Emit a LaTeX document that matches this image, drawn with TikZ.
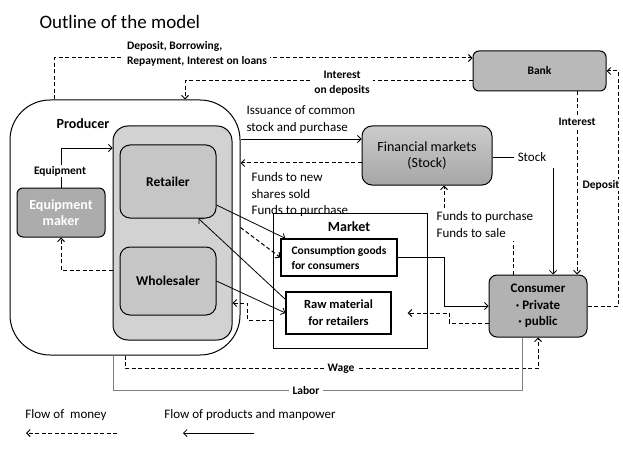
\documentclass[tikz,border=0pt]{standalone}
\usepackage{fontspec}
\setmainfont{Carlito}
\usetikzlibrary{calc,arrows.meta}
\tikzstyle{box} = [rectangle,draw,line width=1pt,text centered,align=center]

\begin{document}
\begin{tikzpicture}
		[
		x=1pt,y=-1pt,
		>={Straight Barb[length=3.5pt,width=7pt]},
		rbox/.style={
		box,
		rounded corners=#1},
		tag/.style={font=\bfseries\fontsize{11.5}{15}\selectfont,align=center},
		txt/.style={font=\fontsize{13}{16.5}\selectfont,align=left},
		money/.style={draw,line width=1pt,dash pattern=on 4pt off 2.5pt},
		goods/.style={draw,line width=0.8pt},
		labor/.style={draw=gray,line width=0.6pt}
		]
		\useasboundingbox (0,0) rectangle (623,449);
		\node[font=\fontsize{19}{22}\selectfont,anchor=west](title) at (36,22) {Outline of the model};
		\node[rbox=40pt,minimum width=230,minimum height=255](producer) at (125,227.5) {};
		\node[font=\bfseries\fontsize{14}{16}\selectfont](prodname) at (83,124) {Producer};
		\node[rbox=15pt,fill=gray!35,minimum width=119,minimum height=214](group) at (172.5,233) {};
		\node[rbox=10pt,fill=gray!45,minimum width=96,minimum height=73,font=\bfseries\fontsize{13.5}{16}\selectfont](retailer) at (168,181.5) {Retailer};
		\node[rbox=10pt,fill=gray!45,minimum width=96,minimum height=68,font=\bfseries\fontsize{13.5}{16}\selectfont](wholesaler) at (168,281) {Wholesaler};
		\node[rbox=6pt,fill=gray!65,text=white,minimum width=88,minimum height=49,font=\bfseries\fontsize{14}{16}\selectfont](equip) at (61,212.5) {Equipment\\maker};
		\node[box,line width=0.6pt,minimum width=154,minimum height=135](market) at (350,280.5) {};
		\node[font=\bfseries\fontsize{14}{16}\selectfont](marketname) at (349,227) {Market};
		\node[box,line width=1.2pt,minimum width=116,minimum height=37,align=left,font=\bfseries\fontsize{11.5}{15}\selectfont](cons) at (339,257.5) {Consumption goods\\for consumers};
		\node[box,line width=1.2pt,minimum width=105,minimum height=42,font=\bfseries\fontsize{12.5}{17}\selectfont](raw) at (338.5,313) {Raw material\\for retailers};
		\node[rbox=6pt,fill=gray!55,minimum width=133,minimum height=40,font=\bfseries\fontsize{11.5}{13}\selectfont](bank) at (539.5,71) {Bank};
		\node[rbox=10pt,top color=gray!40,bottom color=gray!70,minimum width=130,minimum height=59,font=\fontsize{14}{16}\selectfont](fin) at (427,155.5) {Financial markets\\(Stock)};
		\node[rbox=8pt,fill=gray!60,minimum width=98,minimum height=62,font=\bfseries\fontsize{13}{16.5}\selectfont](consumer) at (538,306) {Consumer\\· Private\\· public};

		\node[txt](stk) at (532,157) {Stock};
		\node[txt,anchor=north west](fts) at (433,208) {Funds to purchase\\Funds to sale};
		\coordinate (stkdn) at (553,168);
		\coordinate (depx) at (618,0);

		\draw[money,->] ([xshift=45pt]producer.north west) |- ([yshift=13pt]bank.west);
		\draw[money,->] ([yshift=-10pt]bank.west) -| ([xshift=60pt]producer.north);
		\draw[goods,->] ([yshift=16.5pt]fin.west -| producer.east) -- ([yshift=16.5pt]fin.west);
		\draw[money,->] ([yshift=-7.5pt]fin.west) -- ([yshift=-7.5pt]fin.west -| producer.east);
		\draw[goods] (stk.west -| fin.east) -- (stk.west);
		\draw[goods,->] (stkdn) -- (stkdn |- consumer.north);
		\draw[money,->] ([xshift=37.5pt]bank.south) -- ([xshift=37.5pt]bank.south |- consumer.north);
		\draw[money,->] (consumer.east) -- (consumer.east -| depx) -- (bank.east -| depx) -- (bank.east);
		\draw[money] ([xshift=-25pt]consumer.north) -- ([xshift=-25pt]consumer.north |- fts.south);
		\draw[money,->] ([xshift=17pt]fin.south |- fts.north) -- ([xshift=17pt]fin.south);
		\draw[goods,->] (cons.east) -| ([xshift=-44pt]consumer.west) -- (consumer.west);
		\draw[money,->] ([yshift=-17pt]consumer.west) -- ++(-39,0) |- ([xshift=16pt]raw.east);
		\draw[money,->] ([yshift=-7pt]raw.west -| market.west) -- ++(-25,0) |- ([yshift=10pt]raw.west -| group.east);
		\draw[money,->] (producer.east) -- (cons.west);
		\draw[goods,->] ([yshift=-23.5pt]retailer.east) -- ([xshift=5pt]cons.north west);
		\draw[goods,->] ([yshift=-8pt]raw.north west) -- ([xshift=-18pt]retailer.south east);
		\draw[goods,->] (wholesaler.east) -- (raw.west);
		\draw[goods,->] (equip.north) |- ([yshift=85pt]group.west);
		\draw[money,->] ([yshift=-37pt]group.west) -| (equip.south);
		\draw[money,->] (producer.south) -- ++(0,13) -| (consumer.south);
		\draw[labor] ([xshift=-12pt]producer.south) -- ++(0,35) -| ([xshift=-16pt]consumer.south);

		\node[tag,align=left,fill=white](deplbl) at (197,54) {Deposit, Borrowing,\\Repayment, Interest on loans};
		\node[tag,fill=white](intlbl) at (342,83) {Interest\\on deposits};
		\node[txt,anchor=south west](isslbl) at (243,137) {Issuance of common\\stock and purchase};
		\node[txt,anchor=north west](fundlbl) at (248,169) {Funds to new\\shares sold\\Funds to purchase};
		\node[tag,fill=white](rintlbl) at (577,122) {Interest};
		\node[tag,fill=white,inner sep=1pt](deplbl2) at (601,185) {Deposit};
		\node[tag,fill=white,inner sep=1pt](equiplbl) at (60,171) {Equipment};
		\node[tag,fill=white](wagelbl) at (341,369) {Wage};
		\node[tag,fill=white](laborlbl) at (306,391) {Labor};

		\node[txt](lgm) at (66,415) {Flow of~~money};
		\node[txt](lgp) at (250,415) {Flow of products and manpower};
		\coordinate (m1) at (117,433);
		\coordinate (m2) at (26,433);
		\coordinate (p1) at (254,433);
		\coordinate (p2) at (183,433);
		\draw[money,->] (m1) -- (m2);
		\draw[goods,->] (p1) -- (p2);
		\end{tikzpicture}
\end{document}
